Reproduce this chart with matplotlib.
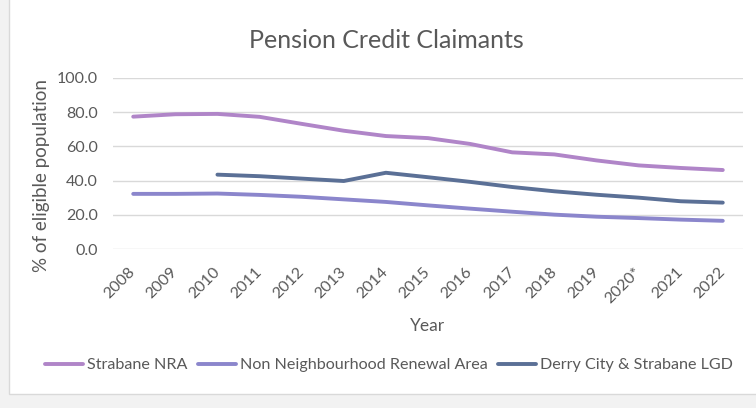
import matplotlib.pyplot as plt
from matplotlib.patches import Rectangle

years = ['2008', '2009', '2010', '2011', '2012', '2013', '2014', '2015',
         '2016', '2017', '2018', '2019', '2020*', '2021', '2022']
strabane_nra = [77.3, 78.7, 78.9, 77.2, 73.1, 69.1, 66.0, 64.8,
                61.4, 56.5, 55.3, 51.8, 48.9, 47.4, 46.2]
non_nra = [32.3, 32.3, 32.5, 31.7, 30.6, 29.1, 27.6, 25.6,
           23.7, 21.9, 20.2, 19.0, 18.2, 17.3, 16.6]
# LGD series starts in 2010
lgd = [None, None, 43.5, 42.6, 41.2, 39.8, 44.6, 42.0,
       39.3, 36.3, 33.8, 31.8, 30.1, 28.0, 27.2]

plt.rcParams['font.family'] = ['Lato', 'DejaVu Sans']
grey = '#595959'

fig = plt.figure(figsize=(7.56, 4.08), dpi=100)
fig.patch.set_facecolor('#F2F2F2')
fig.patches.append(Rectangle((9 / 756, 14 / 408), 1, 1, transform=fig.transFigure,
                             facecolor='white', edgecolor='#D9D9D9', lw=1, zorder=-1))

ax = fig.add_axes([113 / 756, 1 - 249.3 / 408, (743 - 113) / 756, (249.3 - 77.7) / 408])
ax.set_facecolor('none')

x = list(range(len(years)))
ax.plot(x, strabane_nra, color='#B085C8', lw=2.8, label='Strabane NRA', solid_capstyle='round')
ax.plot(x, non_nra, color='#8B86CC', lw=2.8, label='Non Neighbourhood Renewal Area', solid_capstyle='round')
lx = [i for i, v in zip(x, lgd) if v is not None]
ly = [v for v in lgd if v is not None]
ax.plot(lx, ly, color='#5B7096', lw=2.8, label='Derry City & Strabane LGD', solid_capstyle='round')

ax.set_xlim(-0.48, 14.48)
ax.set_ylim(0, 100)
ax.set_yticks([0, 20, 40, 60, 80, 100])
ax.set_yticklabels([f'{v:.1f}' for v in [0, 20, 40, 60, 80, 100]])
ax.set_xticks(x)
ax.set_xticklabels(years, rotation=45, ha='right', va='center', rotation_mode='anchor')
ax.tick_params(length=0, labelsize=11.5, colors=grey)
ax.tick_params(axis='x', pad=15)
ax.tick_params(axis='y', pad=11)
ax.grid(axis='y', color='#D9D9D9', lw=1)
ax.set_axisbelow(True)
for s in ax.spines.values():
    s.set_visible(False)

fig.text(42 / 756, 1 - 176 / 408, '% of eligible population', fontsize=13.5, color=grey,
         rotation=90, ha='center', va='center')
fig.text(428 / 756, 1 - 326 / 408, 'Year', fontsize=12.5, color=grey, ha='center', va='center')
fig.text(386 / 756, 1 - 40 / 408, 'Pension Credit Claimants', fontsize=18,
         color=grey, ha='center', va='center')

fig.legend(loc='center', bbox_to_anchor=(389 / 756, 1 - 365 / 408), ncol=3, frameon=False,
           fontsize=11.6, labelcolor=grey, handlelength=2.4, handletextpad=0.25,
           columnspacing=0.6)

fig.savefig('out.png', dpi=100)
